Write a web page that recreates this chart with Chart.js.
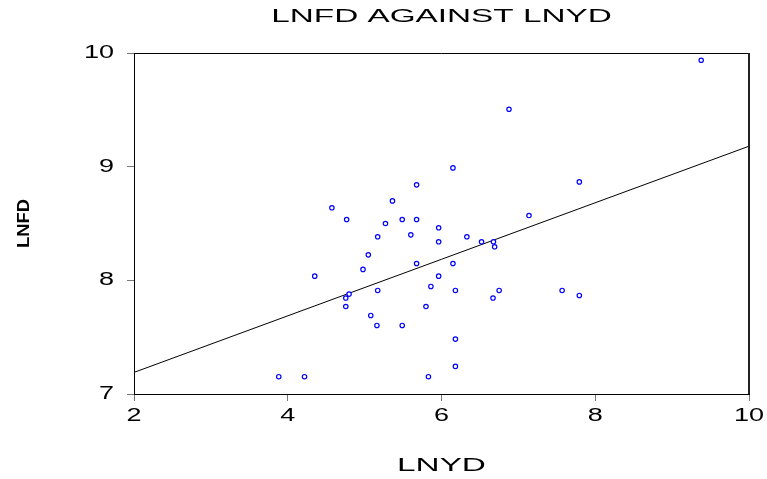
<!DOCTYPE html>
<html>
<head>
<meta charset="utf-8">
<title>LNFD against LNYD</title>
<script src="https://cdn.jsdelivr.net/npm/chart.js@4/dist/chart.umd.min.js"></script>
<style>
  html, body { margin: 0; padding: 0; background: #ffffff; }
  #wrap { width: 767px; height: 479px; }
</style>
</head>
<body>
<div id="wrap"><canvas id="chart" width="767" height="479"></canvas></div>
<script>
// Scatter of log financial development (LNFD) against log income (LNYD)
const chartTitle = 'LNFD AGAINST LNYD';
const xTitle = 'LNYD';
const yTitle = 'LNFD';

const lnyd = [9.378, 6.878, 6.149, 7.793, 5.676, 5.362, 4.574, 7.138, 4.766, 5.489,
              5.676, 5.271, 5.963, 5.601, 5.170, 6.330, 5.963, 6.521, 6.676, 6.691,
              5.048, 5.676, 6.149, 4.979, 4.351, 5.963, 5.862, 5.170, 6.181, 6.750,
              7.569, 4.798, 4.755, 6.670, 7.793, 4.755, 5.798, 5.080, 5.160, 5.489,
              6.181, 6.181, 3.883, 4.218, 5.830];
const lnfd = [9.936, 9.505, 8.989, 8.866, 8.840, 8.699, 8.638, 8.570, 8.535, 8.535,
              8.535, 8.500, 8.462, 8.400, 8.383, 8.383, 8.339, 8.339, 8.339, 8.295,
              8.224, 8.148, 8.148, 8.096, 8.037, 8.037, 7.946, 7.911, 7.911, 7.911,
              7.911, 7.879, 7.844, 7.844, 7.867, 7.770, 7.770, 7.691, 7.603, 7.603,
              7.483, 7.243, 7.152, 7.152, 7.152];

// Fitted regression line end points
const fitX = [2, 10];
const fitY = [7.19, 9.18];

const xTicks = [2, 4, 6, 8, 10];
const yTicks = [7, 8, 9, 10];

const points = lnyd.map((v, i) => ({ x: v, y: lnfd[i] }));
const fitLine = fitX.map((v, i) => ({ x: v, y: fitY[i] }));

const FONT = '"Liberation Sans", Arial, Helvetica, sans-serif';

// Wide, horizontally stretched lettering
const stretchText = {
  id: 'stretchText',
  beforeInit(chart) {
    const ctx = chart.ctx;
    const base = ctx.fillText.bind(ctx);
    ctx.__stretch = 1;
    ctx.fillText = function (text, x, y, maxWidth) {
      const k = ctx.__stretch || 1;
      if (k === 1) { return base(text, x, y); }
      ctx.save();
      ctx.translate(x, y);
      ctx.scale(k, 1);
      base(text, 0, 0);
      ctx.restore();
    };
  },
  beforeDraw(chart) { chart.ctx.__stretch = 1.5; },
  afterDraw(chart) {
    const ctx = chart.ctx;
    const a = chart.chartArea;
    // frame: top and right edges
    ctx.save();
    ctx.strokeStyle = '#000000';
    ctx.lineWidth = 1;
    ctx.beginPath();
    ctx.moveTo(a.left, a.top + 0.5);
    ctx.lineTo(a.right, a.top + 0.5);
    ctx.stroke();
    ctx.lineWidth = 2;
    ctx.strokeStyle = '#222222';
    ctx.beginPath();
    ctx.moveTo(a.right, a.top);
    ctx.lineTo(a.right, a.bottom);
    ctx.stroke();
    ctx.restore();

    // titles
    ctx.save();
    ctx.fillStyle = '#000000';
    ctx.textAlign = 'center';
    ctx.textBaseline = 'middle';
    ctx.__stretch = 1.85;
    ctx.font = '18px ' + FONT;
    ctx.fillText(chartTitle, (a.left + a.right) / 2, 17);
    ctx.fillText(xTitle, (a.left + a.right) / 2, 466);
    ctx.translate(25, (a.top + a.bottom) / 2);
    ctx.rotate(-Math.PI / 2);
    ctx.__stretch = 1.15;
    ctx.font = 'bold 16px ' + FONT;
    ctx.fillText(yTitle, 0, 0);
    ctx.restore();
    ctx.__stretch = 1;
  }
};

new Chart(document.getElementById('chart'), {
  type: 'scatter',
  data: {
    datasets: [
      {
        label: yTitle,
        data: points,
        showLine: false,
        pointStyle: 'circle',
        pointRadius: 2.2,
        pointBorderWidth: 1.2,
        pointBorderColor: '#0000ff',
        pointBackgroundColor: '#ffffff',
        order: 1
      },
      {
        type: 'line',
        label: 'fit',
        data: fitLine,
        borderColor: '#000000',
        borderWidth: 1,
        pointRadius: 0,
        fill: false,
        order: 2
      }
    ]
  },
  options: {
    responsive: false,
    animation: false,
    devicePixelRatio: 1,
    layout: { padding: { top: 53, right: 18, left: 0, bottom: 0 } },
    plugins: {
      legend: { display: false },
      title: { display: false },
      tooltip: { enabled: false }
    },
    scales: {
      x: {
        type: 'linear',
        min: 2,
        max: 10,
        afterFit(scale) { scale.height = 85; },
        afterBuildTicks(scale) { scale.ticks = xTicks.map(v => ({ value: v })); },
        ticks: {
          color: '#000000',
          font: { family: FONT, size: 18 },
          padding: 4,
          maxRotation: 0
        },
        grid: { display: true, drawOnChartArea: false, drawTicks: true, tickLength: 7, color: '#777777' },
        border: { display: true, color: '#000000', width: 1 }
      },
      y: {
        type: 'linear',
        min: 7,
        max: 10,
        afterFit(scale) { scale.width = 134; },
        afterBuildTicks(scale) { scale.ticks = yTicks.map(v => ({ value: v })); },
        ticks: {
          color: '#000000',
          font: { family: FONT, size: 18 },
          padding: 13
        },
        grid: { display: true, drawOnChartArea: false, drawTicks: true, tickLength: 7, color: '#777777' },
        border: { display: true, color: '#000000', width: 1 }
      }
    }
  },
  plugins: [stretchText]
});
</script>
</body>
</html>
